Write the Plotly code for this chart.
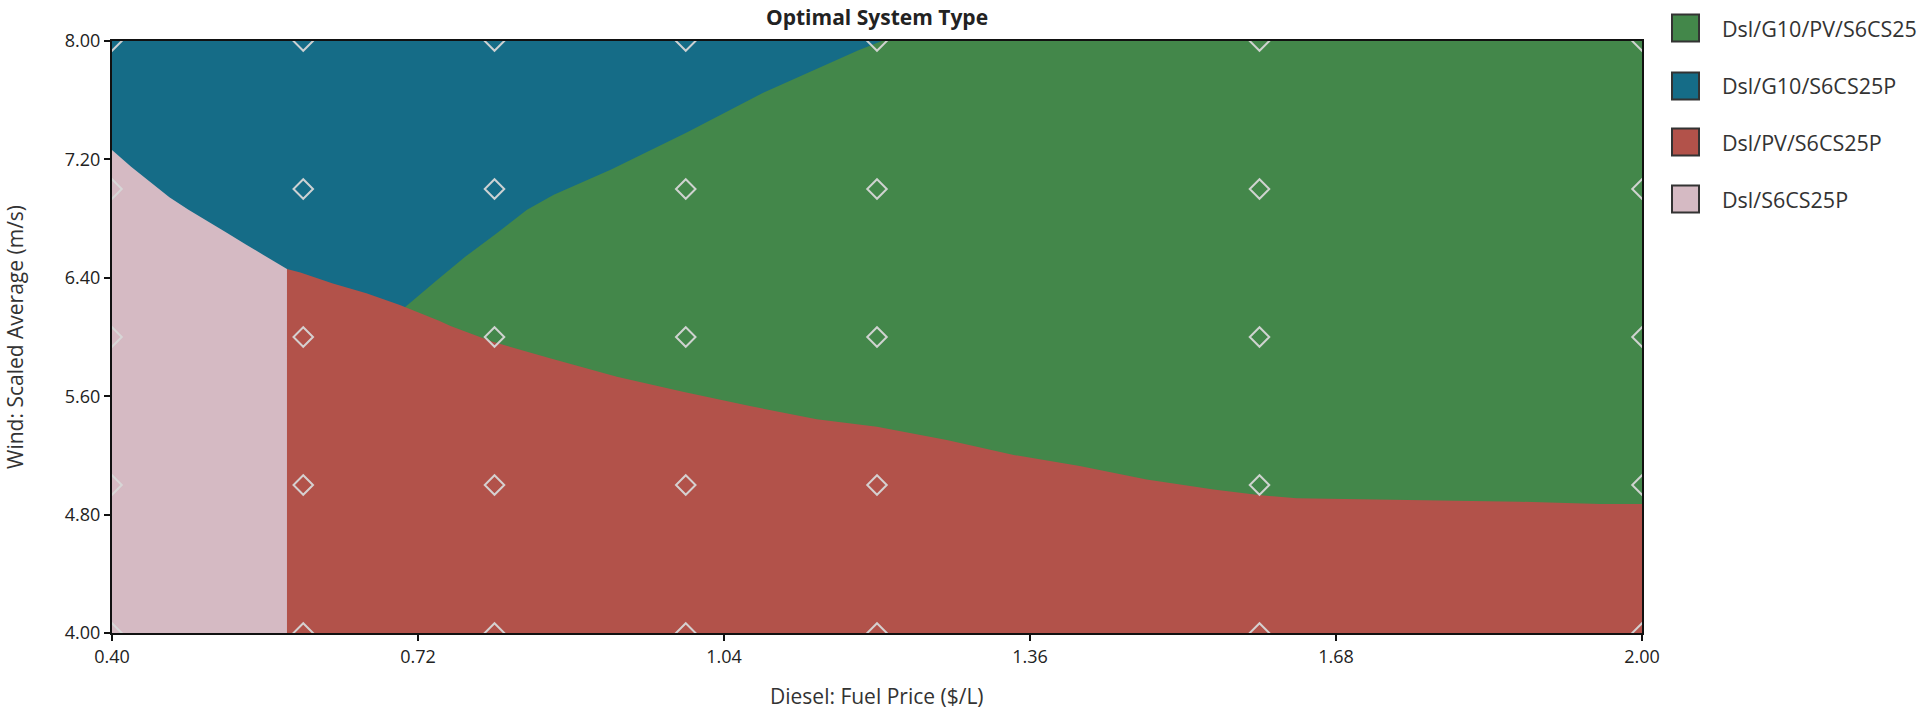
import plotly.graph_objects as go

# ---------------- data ----------------
X_RANGE = [0.40, 2.00]
Y_RANGE = [4.00, 8.00]
X_TICKS = [0.40, 0.72, 1.04, 1.36, 1.68, 2.00]
Y_TICKS = [4.00, 4.80, 5.60, 6.40, 7.20, 8.00]

# simulated sensitivity points (diamonds)
grid_x = [0.4, 0.6, 0.8, 1.0, 1.2, 1.6, 2.0]
grid_y = [4.0, 5.0, 6.0, 7.0, 8.0]

categories = ["Dsl/G10/PV/S6CS25", "Dsl/G10/S6CS25P", "Dsl/PV/S6CS25P", "Dsl/S6CS25P"]
colors = ["#43874A", "#156C87", "#B2524A", "#D5BAC3"]

# boundary: Dsl/S6CS25P (pink) | Dsl/G10/S6CS25P (blue)
pb_x = [0.400, 0.420, 0.440, 0.460, 0.480, 0.500, 0.520, 0.540, 0.560, 0.583]
pb_y = [7.264, 7.150, 7.045, 6.945, 6.860, 6.780, 6.705, 6.625, 6.545, 6.459]

# boundary: Dsl/PV/S6CS25P (red) | Dsl/G10/S6CS25P (blue)
br_x = [0.583, 0.597, 0.631, 0.666, 0.701, 0.706]
br_y = [6.459, 6.435, 6.362, 6.295, 6.216, 6.200]

# boundary: Dsl/PV/S6CS25P (red) | Dsl/G10/PV/S6CS25 (green)
rg_x = [0.706, 0.742, 0.754, 0.798, 0.858, 0.928, 0.997, 1.067, 1.137, 1.200,
        1.273, 1.343, 1.412, 1.482, 1.552, 1.599, 1.639, 1.719, 1.872, 1.956, 2.000]
rg_y = [6.200, 6.109, 6.074, 5.968, 5.856, 5.732, 5.630, 5.534, 5.444, 5.394,
        5.304, 5.203, 5.128, 5.038, 4.970, 4.932, 4.910, 4.899, 4.887, 4.872, 4.872]

# boundary: Dsl/G10/S6CS25P (blue) | Dsl/G10/PV/S6CS25 (green)
bg_x = [0.706, 0.740, 0.770, 0.802, 0.834, 0.862, 0.922, 1.001, 1.081, 1.140, 1.180, 1.205]
bg_y = [6.200, 6.385, 6.545, 6.700, 6.859, 6.961, 7.132, 7.382, 7.650, 7.820, 7.935, 8.000]

# ---------------- figure ----------------
x0, x1 = X_RANGE
y0, y1 = Y_RANGE

fig = go.Figure()

def region(xs, ys, color):
    fig.add_trace(go.Scatter(x=xs, y=ys, fill="toself", fillcolor=color,
                             mode="lines", line=dict(width=0, color=color),
                             hoverinfo="skip", showlegend=False))

# green: whole area (other regions are layered on top)
region([x0, x1, x1, x0], [y0, y0, y1, y1], colors[0])
# blue: left of the blue/green boundary (lower parts covered by red/pink)
region([x0] + bg_x[::-1] + [bg_x[0], x0],
       [y1] + bg_y[::-1] + [y0, y0], colors[1])
# pink
region([x0, pb_x[-1]] + pb_x[::-1],
       [y0, y0] + pb_y[::-1], colors[3])
# red
region([pb_x[-1], x1] + rg_x[::-1] + br_x[::-1][1:],
       [y0, y0] + rg_y[::-1] + br_y[::-1][1:], colors[2])

# diamonds at simulated points
dx = [gx for gy in grid_y for gx in grid_x]
dy = [gy for gy in grid_y for gx in grid_x]
fig.add_trace(go.Scatter(x=dx, y=dy, mode="markers",
                         marker=dict(symbol="diamond-open", size=15,
                                     color="rgba(215,215,215,0.95)",
                                     line=dict(width=2, color="rgba(215,215,215,0.95)")),
                         hoverinfo="skip", showlegend=False))

FONT = "Open Sans, Noto Sans, sans-serif"
L, R, T, B = 112, 278, 41, 78
W, H = 1920, 711
PW, PH = W - L - R, H - T - B

axis_common = dict(showgrid=False, zeroline=False, automargin=False,
                   showline=True, linecolor="#111111", linewidth=2, mirror=True,
                   ticks="outside", ticklen=6, tickwidth=1.5, tickcolor="#111111",
                   tickformat=".2f",
                   tickfont=dict(size=18, family=FONT, color="#222222"))

fig.update_layout(
    width=W, height=H,
    margin=dict(l=L, r=R, t=T, b=B, pad=0, autoexpand=False),
    paper_bgcolor="white", plot_bgcolor="white",
    font=dict(family=FONT, color="#222222"),
    showlegend=False,
    xaxis=dict(range=X_RANGE, tickvals=X_TICKS, **axis_common),
    yaxis=dict(range=Y_RANGE, tickvals=Y_TICKS, **axis_common),
)

def px_x(px):
    return (px - L) / PW

def px_y(py):
    return (H - B - py) / PH

annotations = [
    dict(text="<b>Optimal System Type</b>", xref="paper", yref="paper",
         x=0.5, y=px_y(17), xanchor="center", yanchor="middle",
         showarrow=False, font=dict(size=21, family=FONT, color="#222222")),
    dict(text="Diesel: Fuel Price ($/L)", xref="paper", yref="paper",
         x=0.5, y=px_y(696), xanchor="center", yanchor="middle",
         showarrow=False, font=dict(size=21, family=FONT, color="#333333")),
    dict(text="Wind: Scaled Average (m/s)", xref="paper", yref="paper",
         x=px_x(15), y=0.5, xanchor="center", yanchor="middle", textangle=-90,
         showarrow=False, font=dict(size=21, family=FONT, color="#333333")),
]

shapes = []
row_y_px = [28, 86, 142, 199]
for cat, col, ry in zip(categories, colors, row_y_px):
    yp = px_y(ry)
    shapes.append(dict(type="rect", xref="paper", yref="paper",
                       xsizemode="pixel", ysizemode="pixel",
                       xanchor=px_x(1672), yanchor=yp,
                       x0=0, x1=27, y0=-13.5, y1=13.5,
                       fillcolor=col, line=dict(color="#333333", width=2)))
    annotations.append(dict(text=cat, xref="paper", yref="paper",
                            x=px_x(1720), y=yp, xanchor="left", yanchor="middle",
                            showarrow=False,
                            font=dict(size=21.5, family=FONT, color="#333333")))

fig.update_layout(annotations=annotations, shapes=shapes)

# remove the browser's default body margin so the figure fills the window
fig.write_html("out.html",
               config={"displayModeBar": False},
               post_script="document.body.style.margin='0';document.body.style.overflow='hidden';")
